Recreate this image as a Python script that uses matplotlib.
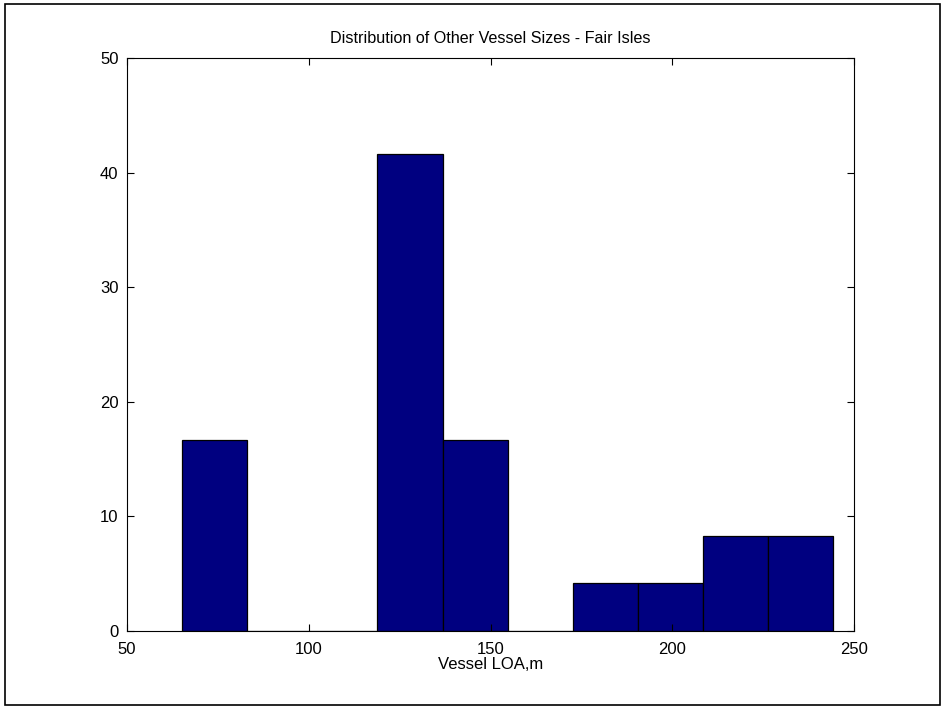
import numpy as np
import matplotlib.pyplot as plt
from matplotlib.patches import Rectangle

plt.rcParams['font.family'] = ['Liberation Sans', 'DejaVu Sans']

# histogram bins (vessel LOA, m) and share of vessels (%)
bin_start = 65.2
bin_width = 17.9
percent = [16.67, 0, 0, 41.67, 16.67, 0, 4.17, 4.17, 8.33, 8.33]

edges = bin_start + bin_width*np.arange(len(percent))

fig = plt.figure(figsize=(9.47, 7.09), dpi=100)
ax = fig.add_axes([0.134, 0.110, 0.768, 0.808])

ax.bar(edges, percent, width=bin_width, align='edge',
       color='#000080', edgecolor='black', linewidth=0.9)

ax.set_xlim(50, 250)
ax.set_ylim(0, 50)
ax.set_xticks([50, 100, 150, 200, 250])
ax.set_yticks([0, 10, 20, 30, 40, 50])
ax.tick_params(direction='in', top=True, right=True, labelsize=12, length=5)
ax.tick_params(axis='x', pad=8)
ax.tick_params(axis='y', pad=6)
for s in ax.spines.values():
    s.set_linewidth(0.8)
ax.set_title('Distribution of Other Vessel Sizes - Fair Isles', fontsize=11.6, pad=11)
ax.set_xlabel('Vessel LOA,m', fontsize=12, labelpad=0)

# outer frame around the whole figure
fig.patches.append(Rectangle((0.005, 0.005), 0.988, 0.99, transform=fig.transFigure,
                             fill=False, edgecolor='black', linewidth=1.2))

fig.savefig('out.png', dpi=100)
